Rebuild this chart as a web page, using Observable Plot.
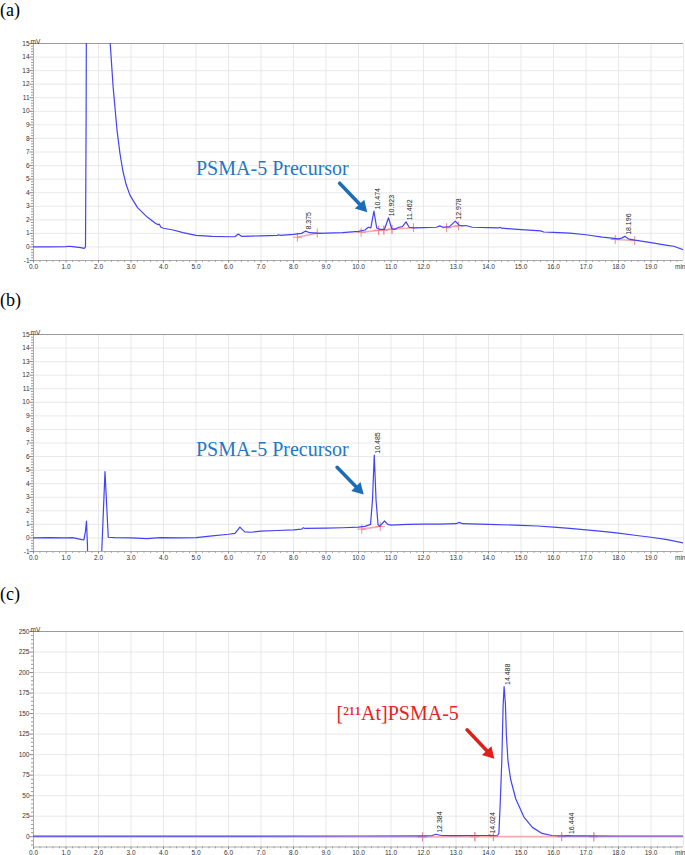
<!DOCTYPE html>
<html><head><meta charset="utf-8">
<script src="https://cdn.jsdelivr.net/npm/d3@7"></script>
<script src="https://cdn.jsdelivr.net/npm/@observablehq/plot@0.6"></script>
<style>
body{margin:0;background:#fff;}
#wrap{position:relative;width:685px;height:855px;overflow:hidden;background:#fff;}
.panel{position:absolute;left:0;}
.lab{position:absolute;left:0;font-family:"Liberation Serif","Times New Roman",serif;font-size:18px;line-height:20px;color:#000;}
</style></head><body><div id="wrap"></div>
<script>
// ---------- Panel (a) trace ----------
const timeA = [
  0, 0.5, 1.0, 1.1, 1.2, 1.45, 1.56, 1.6, 1.62, 1.64,
  1.8, 2.0, 2.2, 2.36, 2.45, 2.57, 2.66, 2.75, 2.85, 2.97,
  3.2, 3.5, 3.75, 3.82, 3.87, 3.92, 4.0, 4.3, 4.6, 5.0,
  5.5, 6.0, 6.2, 6.3, 6.4, 6.7, 7.0, 7.5, 7.55, 7.6,
  8.0, 8.25, 8.375, 8.5, 8.8, 9.0, 9.5, 10.0, 10.2, 10.3,
  10.38, 10.474, 10.56, 10.65, 10.8, 10.923, 11.02, 11.1, 11.25, 11.35,
  11.462, 11.56, 11.7, 12.0, 12.4, 12.5, 12.6, 12.8, 12.978, 13.1,
  13.2, 13.3, 13.5, 14.0, 14.3, 14.35, 14.4, 15.0, 15.5, 15.6,
  15.7, 16.0, 16.5, 17.0, 17.5, 18.0, 18.1, 18.196, 18.3, 18.5,
  19.0, 19.5, 19.7, 20.0];
const signalA = [
  0.0, 0.0, 0.02, 0.05, 0.02, -0.05, -0.1, 0.0, 10, 30,
  60, 50, 25, 15, 11.8, 8.6, 6.9, 5.6, 4.6, 3.8,
  2.9, 2.2, 1.75, 1.65, 1.68, 1.45, 1.38, 1.25, 1.05, 0.85,
  0.78, 0.75, 0.75, 0.95, 0.78, 0.8, 0.82, 0.85, 0.9, 0.85,
  0.92, 1.0, 1.17, 1.05, 1.0, 1.02, 1.05, 1.15, 1.25, 1.45,
  1.4, 2.65, 1.4, 1.3, 1.3, 2.15, 1.35, 1.3, 1.45, 1.5,
  1.85, 1.45, 1.4, 1.42, 1.45, 1.55, 1.45, 1.5, 1.9, 1.6,
  1.55, 1.58, 1.45, 1.43, 1.4, 1.45, 1.38, 1.28, 1.2, 1.18,
  1.1, 1.08, 1.02, 0.9, 0.72, 0.6, 0.65, 0.78, 0.6, 0.5,
  0.32, 0.12, 0.05, -0.22];
const peakTimeA = [8.375, 10.474, 10.923, 11.462, 12.978, 18.196];
const peakHeightA = [1.17, 2.65, 2.15, 1.85, 1.9, 0.78];
const baseStartTA = [8.12, 10.08, 10.62, 10.78, 11.03, 12.71, 17.9];
const baseStartVA = [0.72, 1.08, 1.22, 1.25, 1.3, 1.42, 0.55];
const baseEndTA = [8.73, 10.62, 10.78, 11.03, 11.69, 13.08, 18.5];
const baseEndVA = [1.02, 1.22, 1.25, 1.3, 1.42, 1.55, 0.48];

// ---------- Panel (b) trace ----------
const timeB = [
  0, 0.5, 1.0, 1.2, 1.45, 1.55, 1.6, 1.63, 1.66, 1.68,
  2.05, 2.1, 2.2, 2.26, 2.3, 2.5, 3.0, 3.5, 3.9, 4.5,
  5.0, 5.5, 6.0, 6.2, 6.35, 6.5, 6.7, 7.0, 7.5, 8.0,
  8.25, 8.3, 8.35, 9.0, 9.5, 10.0, 10.2, 10.37, 10.43, 10.485,
  10.54, 10.6, 10.65, 10.8, 10.9, 11.0, 11.5, 12.0, 12.5, 13.0,
  13.1, 13.2, 14.0, 15.0, 15.5, 16.0, 16.5, 17.0, 17.5, 18.0,
  18.5, 19.0, 19.5, 20.0];
const signalB = [
  0.0, 0.02, 0.0, 0.02, -0.1, -0.15, 0.5, 1.25, -0.5, -3,
  -3, -1, 4.9, 2, 0.05, 0.02, 0.0, -0.05, 0.03, 0.0,
  0.02, 0.15, 0.27, 0.33, 0.8, 0.45, 0.42, 0.5, 0.55, 0.6,
  0.65, 0.75, 0.7, 0.72, 0.75, 0.8, 0.85, 1.0, 2.8, 6.1,
  2.8, 1.0, 0.85, 1.25, 1.0, 0.95, 1.0, 1.02, 1.02, 1.05,
  1.15, 1.05, 1.0, 0.93, 0.88, 0.8, 0.7, 0.6, 0.48, 0.35,
  0.2, 0.05, -0.12, -0.38];
const peakTimeB = [10.485];
const peakHeightB = [6.1];
const baseStartTB = [10.1];
const baseStartVB = [0.65];
const baseEndTB = [10.67];
const baseEndVB = [0.85];

// ---------- Panel (c) trace ----------
const timeC = [
  0, 5, 10, 12.0, 12.25, 12.38, 12.55, 13.0, 13.6, 14.0,
  14.02, 14.1, 14.28, 14.32, 14.36, 14.41, 14.45, 14.48, 14.52, 14.55,
  14.6, 14.68, 14.84, 15.09, 15.35, 15.65, 15.95, 16.3, 16.44, 16.6,
  17.0, 18.0, 20.0];
const signalC = [
  0.8, 0.8, 0.9, 1.0, 1.2, 3.0, 1.5, 1.3, 1.5, 1.5,
  2.0, 1.5, 1.8, 4, 40, 93, 160, 183, 162, 124,
  92, 70, 46, 24, 11.4, 4, 1.5, 1.0, 1.4, 1.0,
  1.0, 0.9, 0.9];
const peakTimeC = [12.384, 14.024, 14.488, 16.444];
const peakHeightC = [3.0, 2.0, 183, 1.4];
const baseStartTC = [0, 11.97, 13.58, 14.15, 16.25, 17.24];
const baseStartVC = [-0.3, -0.3, 0.1, 0.2, 0.1, 0.0];
const baseEndTC = [11.97, 13.58, 14.15, 16.25, 17.24, 20];
const baseEndVC = [-0.3, 0.1, 0.2, 0.1, 0.0, -0.1];

// ---------- Annotations ----------
const noteTexts = ["PSMA-5 Precursor", "PSMA-5 Precursor", "[\u00B2\u00B9\u00B9At]PSMA-5"];
const noteT = [5.0, 5.0, 9.32];
const noteV = [5.74, 6.55, 150.2];
const arrowT1 = [9.42, 9.34, 13.34];
const arrowV1 = [4.70, 5.21, 130.3];
const arrowT2 = [10.27, 10.16, 14.18];
const arrowV2 = [2.56, 3.2, 95];

// ---------- Axes ----------
const xDomain = [0, 20];
const xMajor = d3.range(0, 20);
const xMinor = d3.range(0, 100).map(i => i / 5).filter(d => d % 1 !== 0);
const yDomainAB = [-1, 15];
const yMajorAB = d3.range(-1, 16);
const yMinorAB = d3.range(-5, 76).map(i => i / 5).filter(d => d % 1 !== 0);
const yDomainC = [-12.5, 250];
const yMajorC = d3.range(0, 251, 25);
const yMinorC = d3.range(-10, 251, 5).filter(d => d % 25 !== 0);

const W = 685, ML = 33, MR = 2;
const wrap = document.getElementById("wrap");

function buildPanel(cfg) {
  const {top, height, mt, mb, yDomain, yMajor, yMinor, time, signal,
         peakT, peakH, bst, bsv, bet, bev, idx, textColor, arrowColor} = cfg;
  const trace = time.map((t, i) => ({t, v: signal[i]}));
  const peaks = peakT.map((t, i) => ({t, v: peakH[i], label: t.toFixed(3)}));
  const segs = bst.map((t, i) => ({t1: t, v1: bsv[i], t2: bet[i], v2: bev[i]}));
  const marks = [];
  segs.forEach(s => {
    if (s.t1 > 0) marks.push({t: s.t1, v: s.v1});
    if (s.t2 < 20) marks.push({t: s.t2, v: s.v2});
  });
  const ih = height - mt - mb, iw = W - ML - MR;
  const xPx = t => ML + (t - xDomain[0]) / (xDomain[1] - xDomain[0]) * iw;
  const yPx = v => mt + (yDomain[1] - v) / (yDomain[1] - yDomain[0]) * ih;
  const xInv = p => xDomain[0] + (p - ML) / iw * (xDomain[1] - xDomain[0]);
  const yInv = p => yDomain[1] - (p - mt) / ih * (yDomain[1] - yDomain[0]);
  // arrow geometry
  const sx = xPx(arrowT1[idx]), sy = yPx(arrowV1[idx]);
  const ex = xPx(arrowT2[idx]), ey = yPx(arrowV2[idx]);
  const len = Math.hypot(ex - sx, ey - sy);
  const ux = (ex - sx) / len, uy = (ey - sy) / len;
  const r = 4.8;
  const s = Math.sqrt(r * r * Math.PI / (3 * Math.sqrt(3)));
  const cx = ex - ux * 2 * s, cy = ey - uy * 2 * s;
  const rot = Math.atan2(uy, ux) * 180 / Math.PI + 90;
  const shaft = [{t1: arrowT1[idx], v1: arrowV1[idx], t2: xInv(cx), v2: yInv(cy)}];
  const head = [{t: xInv(cx), v: yInv(cy)}];
  const note = [{t: noteT[idx], v: noteV[idx], text: noteTexts[idx]}];

  const plot = Plot.plot({
    width: W, height,
    marginTop: mt, marginBottom: mb, marginLeft: ML, marginRight: MR,
    x: {domain: xDomain},
    y: {domain: yDomain},
    style: {fontFamily: "'Liberation Sans', Arial, sans-serif", fontSize: "6.5px", color: "#333", background: "transparent", overflow: "visible"},
    marks: [
      Plot.gridX(d3.range(0, 21), {stroke: "#e3e3e3", strokeOpacity: 1, strokeWidth: 0.8}),
      Plot.gridY(yMajor, {stroke: "#e3e3e3", strokeOpacity: 1, strokeWidth: 0.8}),
      Plot.ruleY([yDomain[1]], {stroke: "#9a9a9a", strokeWidth: 1}),
      Plot.ruleY([yDomain[0]], {stroke: "#9a9a9a", strokeWidth: 0.8}),
      Plot.ruleX([xDomain[0]], {stroke: "#9a9a9a", strokeWidth: 0.8}),
      Plot.axisY(yMajor, {tickSize: 3.5, tickPadding: 0.5, label: null, stroke: "#888", fill: "#333", tickFormat: d => String(d)}),
      Plot.axisY(yMinor, {tickSize: 2, label: null, stroke: "#999", tickFormat: () => ""}),
      Plot.axisX(xMajor, {tickSize: 2.5, tickPadding: 1, label: null, stroke: "#888", fill: "#333", tickFormat: d => d.toFixed(1)}),
      Plot.axisX(xMinor, {tickSize: 1.8, label: null, stroke: "#999", tickFormat: () => ""}),
      Plot.text(["min"], {frameAnchor: "bottom-right", textAnchor: "end", lineAnchor: "top", dy: 3.5, dx: 2, fill: "#333"}),
      Plot.text(["mV"], {frameAnchor: "top-left", textAnchor: "start", lineAnchor: "bottom", dx: -3, dy: 0, fill: "#333"}),
      Plot.link(segs, {x1: "t1", y1: "v1", x2: "t2", y2: "v2", stroke: "#f4a3a8", strokeWidth: 1.6, strokeOpacity: 0.9}),
      Plot.dot(marks, {x: "t", y: "v", symbol: "plus", r: 3, stroke: "#f08a92", strokeWidth: 1}),
      Plot.line(trace, {x: "t", y: "v", stroke: "#4343f5", strokeWidth: 1.2, clip: true}),
      Plot.text(peaks, {x: "t", y: "v", text: "label", rotate: -90, textAnchor: "start", lineAnchor: "middle", dx: 3.5, dy: -1.5, fontSize: 7, fill: "#222"}),
      Plot.text(note, {x: "t", y: "v", text: "text", textAnchor: "start", lineAnchor: "middle", fontSize: 20, fontFamily: "'Liberation Serif', 'Times New Roman', serif", fill: textColor}),
      Plot.arrow(shaft, {x1: "t1", y1: "v1", x2: "t2", y2: "v2", stroke: arrowColor, strokeWidth: 3.5, headLength: 0}),
      Plot.dot(head, {x: "t", y: "v", symbol: "triangle", r, fill: arrowColor, stroke: "none", rotate: rot})
    ]
  });
  const holder = document.createElement("div");
  holder.className = "panel";
  holder.style.top = top + "px";
  holder.appendChild(plot);
  wrap.appendChild(holder);
}

buildPanel({top: 0, height: 281, mt: 43, mb: 21, yDomain: yDomainAB, yMajor: yMajorAB, yMinor: yMinorAB,
  time: timeA, signal: signalA, peakT: peakTimeA, peakH: peakHeightA,
  bst: baseStartTA, bsv: baseStartVA, bet: baseEndTA, bev: baseEndVA, idx: 0,
  textColor: "#2278c6", arrowColor: "#1b6db6"});
buildPanel({top: 291, height: 281, mt: 43, mb: 21, yDomain: yDomainAB, yMajor: yMajorAB, yMinor: yMinorAB,
  time: timeB, signal: signalB, peakT: peakTimeB, peakH: peakHeightB,
  bst: baseStartTB, bsv: baseStartVB, bet: baseEndTB, bev: baseEndVB, idx: 1,
  textColor: "#2278c6", arrowColor: "#1b6db6"});
buildPanel({top: 588, height: 267, mt: 43, mb: 8.5, yDomain: yDomainC, yMajor: yMajorC, yMinor: yMinorC,
  time: timeC, signal: signalC, peakT: peakTimeC, peakH: peakHeightC,
  bst: baseStartTC, bsv: baseStartVC, bet: baseEndTC, bev: baseEndVC, idx: 2,
  textColor: "#e8231c", arrowColor: "#e02018"});

const panelLabels = ["(a)", "(b)", "(c)"];
const labelTops = [0, 290, 584];
panelLabels.forEach((t, i) => {
  const d = document.createElement("div");
  d.className = "lab";
  d.style.top = labelTops[i] + "px";
  d.textContent = t;
  wrap.appendChild(d);
});
</script>
</body></html>
